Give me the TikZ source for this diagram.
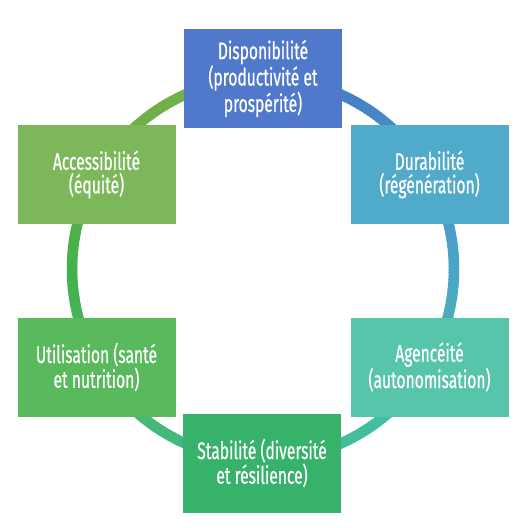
\documentclass[tikz,border=0pt]{standalone}
\usepackage{fontspec}
\setmainfont[FakeStretch=0.65,FakeBold=0.6]{Fira Sans}
\definecolor{cA}{HTML}{4472C4}
\definecolor{cB}{HTML}{468CC6}
\definecolor{cC}{HTML}{4BA5C8}
\definecolor{cD}{HTML}{45BFA6}
\definecolor{cE}{HTML}{3FB98A}
\definecolor{cF}{HTML}{47B874}
\definecolor{cG}{HTML}{44B14A}
\definecolor{cH}{HTML}{6FAE47}
\definecolor{cI}{HTML}{78B24A}
\definecolor{bTop}{HTML}{5079CB}
\definecolor{bDur}{HTML}{50AAC9}
\definecolor{bAcc}{HTML}{7CB85A}
\definecolor{bUti}{HTML}{58BA5C}
\definecolor{bAge}{HTML}{57C4AC}
\definecolor{bSta}{HTML}{36B26B}
\tikzset{
  pillar/.style={minimum width=158pt, minimum height=99pt, inner sep=0pt,
    text=white, align=center, font=\fontsize{24}{23.5}\selectfont},
  ring/.style={line width=10.5pt, line cap=butt}
}
\begin{document}
\begin{tikzpicture}[x=1pt,y=1pt]
\useasboundingbox (0,0) rectangle (521,-528);
\coordinate (ctr) at (263,-269);
\foreach \sa/\ca/\cb in {90/cA/cB, 45/cB/cC, 0/cC/cD, -45/cD/cE, -90/cE/cF, -135/cF/cG, -180/cG/cH, -225/cH/cI} {
  \foreach \i in {0,...,44} {
    \pgfmathtruncatemacro\p{100-\i*100/45}
    \pgfmathsetmacro\st{\sa-\i}
    \pgfmathsetmacro\en{\sa-\i-1.4}
    \draw[ring, draw=\ca!\p!\cb] (ctr) ++(\st:191) arc[start angle=\st, end angle=\en, radius=191];
  }
}
\node[pillar, fill=bTop] (dispo) at (263,-78.5) {Disponibilité\\(productivité et\\prospérité)};
\node[pillar, fill=bDur] (dura) at (429.5,-174.5) {Durabilité\\(régénération)};
\node[pillar, fill=bAcc] (acces) at (96.5,-174.5) {Accessibilité\\(équité)};
\node[pillar, fill=bUti] (util) at (96.5,-367) {Utilisation (santé\\et nutrition)};
\node[pillar, fill=bAge] (agen) at (429.5,-367) {Agencéité\\(autonomisation)};
\node[pillar, fill=bSta] (stab) at (262,-463) {Stabilité (diversité\\et résilience)};
\end{tikzpicture}
\end{document}
